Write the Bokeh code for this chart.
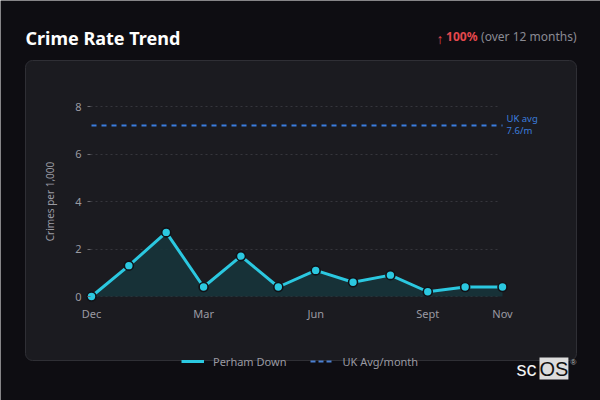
import numpy as np
from bokeh.plotting import figure
from bokeh.models import (ColumnDataSource, BoxAnnotation, Label, Legend, LegendItem,
                          FixedTicker, Range1d)
from bokeh.embed import file_html
from bokeh.resources import INLINE

# ---- data ----
months = ["Dec", "Jan", "Feb", "Mar", "Apr", "May", "Jun", "Jul", "Aug", "Sept", "Oct", "Nov"]
rate = [0.0, 1.3, 2.7, 0.4, 1.7, 0.4, 1.1, 0.6, 0.9, 0.2, 0.4, 0.4]
uk_avg_level = 7.2
uk_avg_text = ["UK avg", "7.6/m"]
x_tick_idx = [0, 3, 6, 9, 11]
y_ticks = [0, 2, 4, 6, 8]
series_name = "Perham Down"
avg_name = "UK Avg/month"
title_text = "Crime Rate Trend"
change_arrow = "↑"
change_pct = "100%"
change_note = "(over 12 months)"

PAGE_BG = "#0e0d12"
PANEL_BG = "#1b1b20"
PANEL_BORDER = "#2f2f35"
CYAN = "#2bc8e0"
BLUE = "#3b7ddd"
GRAY = "#9a9aa2"
GRID = "#36363c"
FONT = "Noto Sans"

W, H = 600, 400
# pixel layout of the plot area
X0_PX, XSTEP_PX = 91.0, (502.0 - 91.0) / 11.0   # Dec .. Nov
Y0_PX, YSTEP_PX = 296.0, (296.0 - 106.0) / 8.0  # 0 .. 8

def dx(px):
    return (px - X0_PX) / XSTEP_PX

def dy(py):
    return (Y0_PX - py) / YSTEP_PX

xs = list(range(len(months)))
src = ColumnDataSource(dict(x=xs, y=rate, base=[0] * len(xs)))

p = figure(width=W, height=H, output_backend="svg", toolbar_location=None,
           x_range=Range1d(dx(0), dx(W)), y_range=Range1d(dy(H), dy(0)),
           min_border=0, min_border_left=0, min_border_right=0,
           min_border_top=0, min_border_bottom=0)
p.border_fill_color = PAGE_BG
p.background_fill_color = PAGE_BG
p.outline_line_color = None

# screen helpers (frame == canvas, y from bottom)
def sx(px):
    return px

def sy(py):
    return H - py

# panel
panel = BoxAnnotation(left=sx(25), right=sx(576), top=sy(60), bottom=sy(360),
                      left_units="screen", right_units="screen",
                      top_units="screen", bottom_units="screen",
                      fill_color=PANEL_BG, fill_alpha=1.0, line_color=PANEL_BORDER, line_width=1,
                      line_alpha=1.0, border_radius=7, level="image")
p.add_layout(panel)

# grid: limited to the plot area
grid = p.ygrid[0]
if "cross_bounds" in grid.properties():
    grid.grid_line_color = GRID
    grid.grid_line_dash = "2 3"
    grid.grid_line_width = 1
    grid.cross_bounds = (dx(90), dx(500))
else:
    grid.grid_line_color = None
    gsrc = ColumnDataSource(dict(y=y_ticks, x0=[dx(90)] * len(y_ticks), x1=[dx(500)] * len(y_ticks)))
    p.segment(x0="x0", y0="y", x1="x1", y1="y", source=gsrc, line_color=GRID,
              line_dash="2 3", line_width=1)
p.xgrid.grid_line_color = None

# area + line + markers
p.varea(x="x", y1="base", y2="y", source=src, fill_color="#17343a", fill_alpha=0.9)
r_line = p.line(x="x", y="y", source=src, line_color=CYAN, line_width=3)
p.scatter(x="x", y="y", source=src, size=9, fill_color=CYAN, line_color="#111116", line_width=1.6)

# UK average line
r_avg = p.line(x=[xs[0], xs[-1]], y=[uk_avg_level, uk_avg_level], line_color=BLUE,
               line_width=2, line_dash="5 5")
# legend proxy for the average (shorter dashes, as in the legend key)
r_avg_key = p.line(x=[xs[0], xs[0]], y=[uk_avg_level, uk_avg_level], line_color="#4a7fd0",
                   line_width=2, line_dash="5 3", visible=False)

for i, t in enumerate(uk_avg_text):
    p.add_layout(Label(x=sx(506), y=sy(118 + 12 * i), x_units="screen", y_units="screen",
                       text=t, text_color=BLUE, text_font=FONT, text_font_size="9.5px",
                       text_baseline="middle", text_align="left"))

# axes (placed inside the canvas at fixed locations)
p.xaxis.fixed_location = dy(300)
p.xaxis.ticker = FixedTicker(ticks=x_tick_idx)
p.xaxis.major_label_overrides = {i: months[i] for i in x_tick_idx}
p.xaxis.axis_line_color = None
p.xaxis.major_tick_line_color = None
p.xaxis.major_tick_out = 0
p.xaxis.minor_tick_line_color = None
p.xaxis.major_label_text_color = GRAY
p.xaxis.major_label_text_font = FONT
p.xaxis.major_label_text_font_size = "11px"
p.xaxis.major_label_standoff = 5

p.yaxis.fixed_location = dx(90)
p.yaxis.ticker = FixedTicker(ticks=y_ticks)
p.yaxis.bounds = (y_ticks[0], y_ticks[-1])
p.yaxis.axis_line_color = None
p.yaxis.major_tick_line_color = "#6a6a70"
p.yaxis.major_tick_out = 3
p.yaxis.major_tick_in = 0
p.yaxis.minor_tick_line_color = None
p.yaxis.major_label_text_color = GRAY
p.yaxis.major_label_text_font = FONT
p.yaxis.major_label_text_font_size = "11px"
p.yaxis.major_label_standoff = 6
p.yaxis.axis_label = "Crimes per 1,000"
p.yaxis.axis_label_text_color = GRAY
p.yaxis.axis_label_text_font = FONT
p.yaxis.axis_label_text_font_style = "normal"
p.yaxis.axis_label_text_font_size = "10px"
p.yaxis.axis_label_standoff = 15

# legend
legend = Legend(items=[LegendItem(label=series_name, renderers=[r_line]),
                       LegendItem(label=avg_name, renderers=[r_avg_key])],
                location=(sx(181), sy(369)), orientation="horizontal",
                background_fill_alpha=0, border_line_color=None,
                label_text_color=GRAY, label_text_font=FONT, label_text_font_size="11px",
                glyph_width=23, glyph_height=16, label_height=16, label_standoff=9,
                spacing=24, padding=0, margin=0)
p.add_layout(legend, "center")

# header
p.add_layout(Label(x=sx(25), y=sy(37), x_units="screen", y_units="screen", text=title_text,
                   text_color="#ffffff", text_font=FONT, text_font_size="18px",
                   text_font_style="bold", text_baseline="middle"))
p.add_layout(Label(x=sx(576), y=sy(36), x_units="screen", y_units="screen", text=change_note,
                   text_color="#8a8a92", text_font=FONT, text_font_size="12px",
                   text_baseline="middle", text_align="right"))
p.add_layout(Label(x=sx(477), y=sy(36), x_units="screen", y_units="screen", text=change_pct,
                   text_color="#e5484d", text_font=FONT, text_font_size="12px",
                   text_font_style="bold", text_baseline="middle", text_align="right"))
p.add_layout(Label(x=sx(443), y=sy(37.5), x_units="screen", y_units="screen", text=change_arrow,
                   text_color="#e5484d", text_font=FONT, text_font_size="14px",
                   text_baseline="middle", text_align="right"))

# logo
p.add_layout(Label(x=sx(516), y=sy(368), x_units="screen", y_units="screen", text="sc",
                   text_color="#f2f2f2", text_font="Liberation Sans", text_font_size="20px",
                   text_baseline="middle"))
p.add_layout(Label(x=sx(539), y=sy(368), x_units="screen", y_units="screen", text="OS",
                   text_color="#111111", text_font="Liberation Sans", text_font_size="20px",
                   text_baseline="middle", background_fill_color="#dcdcdc"))
p.add_layout(Label(x=sx(570), y=sy(362), x_units="screen", y_units="screen", text="®",
                   text_color="#bbbbbb", text_font="Liberation Sans", text_font_size="8px",
                   text_baseline="middle"))

open("out.html", "w").write(file_html(p, INLINE))
